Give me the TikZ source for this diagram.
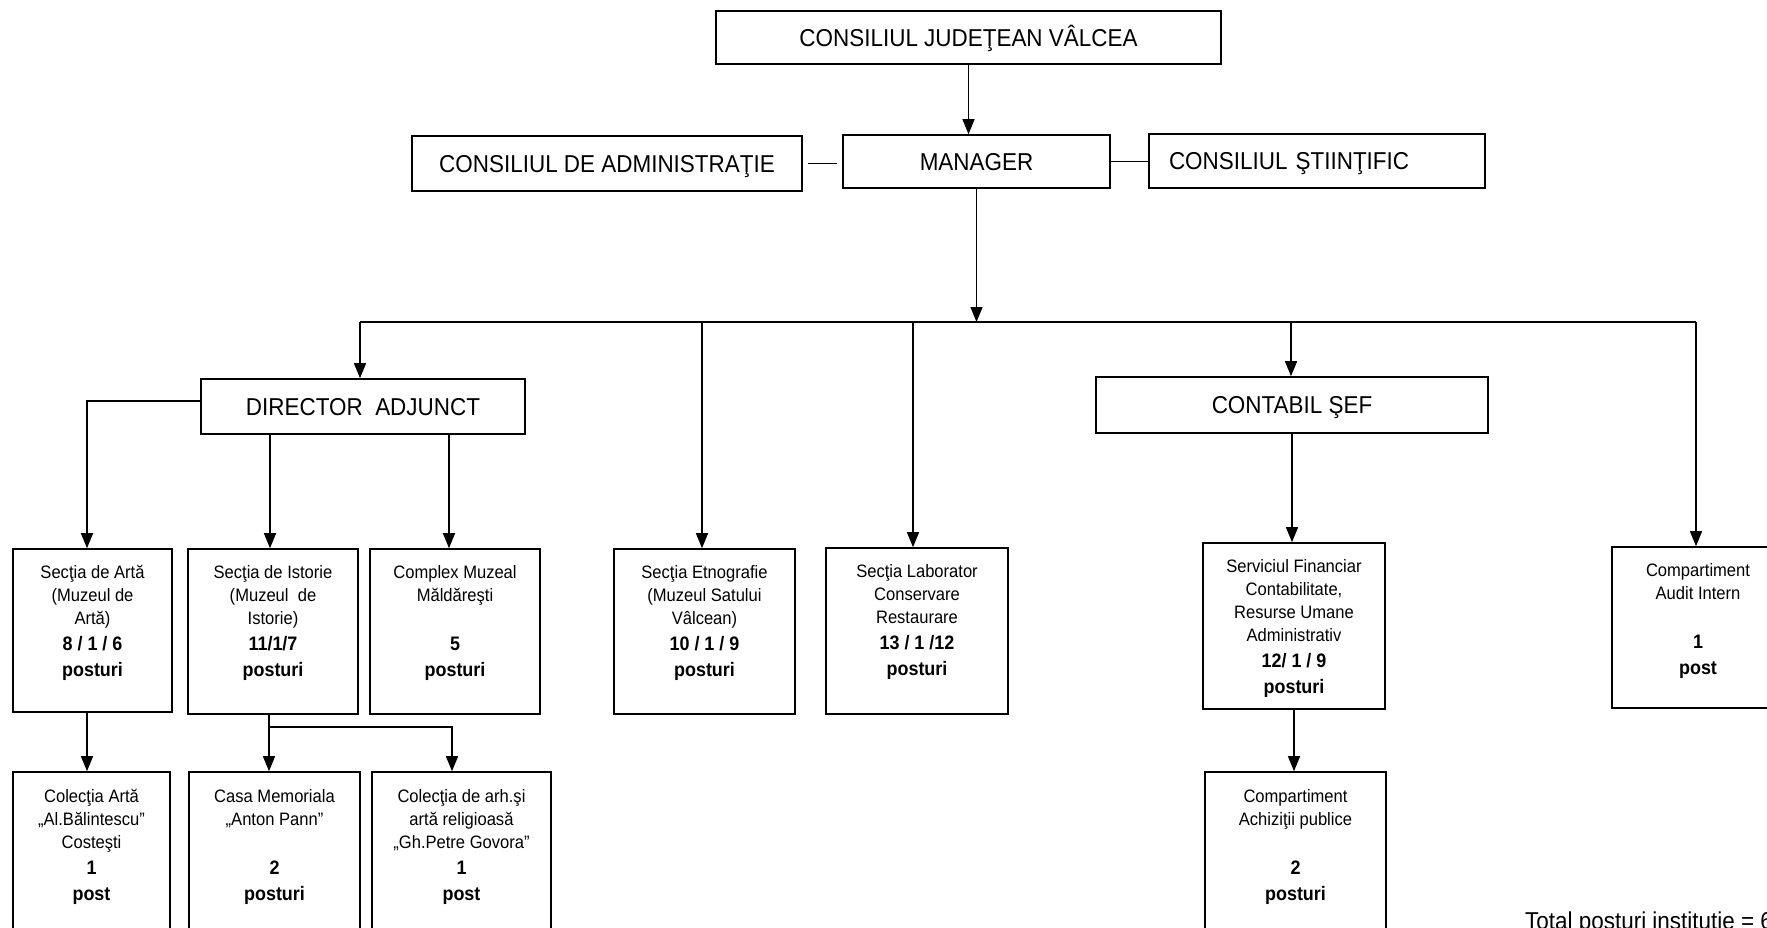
\documentclass[tikz,border=0pt]{standalone}
\usepackage{fontspec}
\setmainfont{Liberation Sans}[FakeStretch=0.92]
\usetikzlibrary{arrows.meta}
\newcommand\orgbox[5]{\parbox[c][#2pt][t]{#1pt}{\centering\fontsize{18}{23.3}\selectfont\rule{0pt}{#3pt}#4\par\fontsize{19.5}{26}\selectfont\bfseries #5\par}}
\begin{document}
\begin{tikzpicture}[x=1pt,y=-1pt,
  big/.style={draw, line width=1.6pt, inner sep=0pt, text height=17.5pt, text depth=0pt, font=\fontsize{24.4}{28}\selectfont},
  small/.style={draw, line width=1.6pt, inner sep=0pt},
  conn/.style={line width=1.4pt},
  arr/.style={line width=1.4pt, -{Triangle[length=15pt,width=12pt]}},
  note/.style={font=\fontsize{24.4}{28}\selectfont, inner sep=0pt}]
\useasboundingbox (0,0) rectangle (1767,928);
\clip (0,0) rectangle (1767,928);
\fill[white] (0,0) rectangle (1767,928);

% top level
\node[big, minimum width=505pt, minimum height=53pt] (cjv) at (968.5,37.5) {CONSILIUL JUDEŢEAN VÂLCEA};
\node[big, minimum width=267pt, minimum height=53pt] (manager) at (976.5,161.5) {MANAGER};
\node[big, minimum width=390pt, minimum height=55pt] (cda) at (607,163.5) {CONSILIUL DE ADMINISTRAŢIE};
\node[big, minimum width=336pt, minimum height=54pt, text width=296pt, align=left, inner xsep=20pt] (cs) at (1317,161) {CONSILIUL ŞTIINŢIFIC};

\node[big, minimum width=324pt, minimum height=55pt] (da) at (363,406.5) {DIRECTOR\ \ ADJUNCT};
\node[big, minimum width=392pt, minimum height=56pt] (cont) at (1292,405) {CONTABIL ŞEF};

% first row
\node[small] (arta) at (92.5,630.5) {\orgbox{159}{163}{29}{Secţia de Artă\\(Muzeul de\\Artă)}{8 / 1 / 6\\posturi}};
\node[small] (istorie) at (273,631.5) {\orgbox{170}{165}{29}{Secţia de Istorie\\(Muzeul\ \ de\\Istorie)}{11/1/7\\posturi}};
\node[small] (complex) at (455,631.5) {\orgbox{170}{165}{29}{Complex Muzeal\\Măldăreşti\\\mbox{}}{5\\posturi}};
\node[small] (etno) at (704.5,631.5) {\orgbox{181}{165}{29}{Secţia Etnografie\\(Muzeul Satului\\Vâlcean)}{10 / 1 / 9\\posturi}};
\node[small] (lab) at (917,631) {\orgbox{182}{166}{29}{Secţia Laborator\\Conservare\\Restaurare}{13 / 1 /12\\posturi}};
\node[small] (sf) at (1294,626) {\orgbox{182}{166}{29}{Serviciul Financiar\\Contabilitate,\\Resurse Umane\\Administrativ}{12/ 1 / 9\\posturi}};
\node[small] (audit) at (1698,627.5) {\orgbox{172}{161}{29}{Compartiment\\Audit Intern\\\mbox{}}{1\\post}};

% second row
\node[small] (colarta) at (91.5,858.5) {\orgbox{157}{173}{30}{Colecţia Artă\\„Al.Bălintescu”\\Costeşti}{1\\post}};
\node[small] (casa) at (274.5,858.5) {\orgbox{171}{173}{30}{Casa Memoriala\\„Anton Pann”\\\mbox{}}{2\\posturi}};
\node[small] (colarh) at (461.5,858.5) {\orgbox{179}{173}{30}{Colecţia de arh.şi\\artă religioasă\\„Gh.Petre Govora”}{1\\post}};
\node[small] (achiz) at (1295.5,858.5) {\orgbox{181}{173}{30}{Compartiment\\Achiziţii publice\\\mbox{}}{2\\posturi}};

\node[note, anchor=base west] (total) at (1525,929) {Total posturi instituţie = 6};

% helper coordinates
\coordinate (busL) at (360,322);
\coordinate (busR) at (1696,322);
\coordinate (bEtno) at (702,322);
\coordinate (bLab) at (913,322);
\coordinate (bCont) at (1291,322);
\coordinate (x87) at (87,0);
\coordinate (x270) at (270,0);
\coordinate (x449) at (449,0);
\coordinate (ib) at (269,727);
\coordinate (x452) at (452,0);

% connectors
\draw[arr] (cjv.south) -- (cjv.south |- manager.north);
\draw[conn, shorten <=5pt, shorten >=5pt] (cda.east) -- (cda.east -| manager.west);
\draw[conn] (manager.east) -- (manager.east -| cs.west);
\draw[arr] (manager.south) -- (manager.south |- busL);
\draw[conn] (busL) -- (busR);
\draw[arr] (busL) -- (busL |- da.north);
\draw[arr] (bEtno) -- (bEtno |- etno.north);
\draw[arr] (bLab) -- (bLab |- lab.north);
\draw[arr] (bCont) -- (bCont |- cont.north);
\draw[arr] (busR) -- (busR |- audit.north);

\draw[arr] ([yshift=5.5pt]da.west) -| (arta.north -| x87);
\draw[arr] (da.south -| x270) -- (istorie.north -| x270);
\draw[arr] (da.south -| x449) -- (complex.north -| x449);
\draw[arr] (cont.south) -- (cont.south |- sf.north);

\draw[arr] (arta.south -| x87) -- (colarta.north -| x87);
\draw[conn] (istorie.south -| ib) -- (ib);
\draw[arr] (ib) -- (ib |- casa.north);
\draw[arr] (ib) -| (colarh.north -| x452);
\draw[arr] (sf.south) -- (sf.south |- achiz.north);
\end{tikzpicture}
\end{document}
